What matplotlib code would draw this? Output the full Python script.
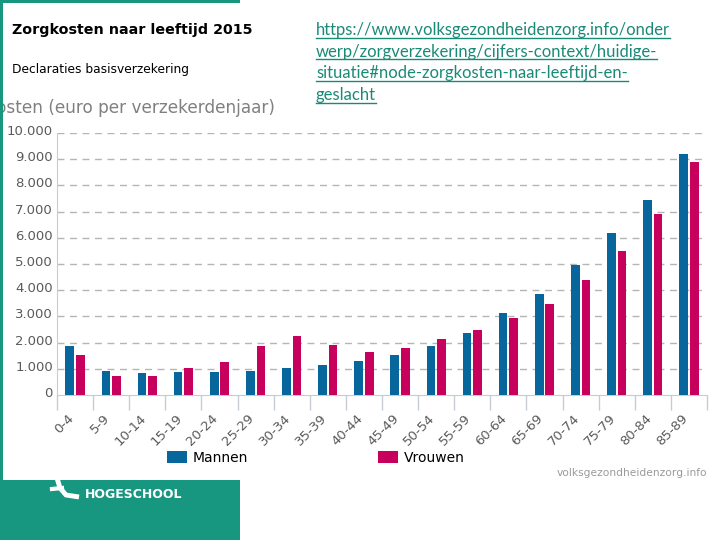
import numpy as np
import matplotlib
matplotlib.use("Agg")
import matplotlib.pyplot as plt
from matplotlib.patches import Rectangle
from matplotlib.transforms import ScaledTranslation

# data
age_groups = ["0-4", "5-9", "10-14", "15-19", "20-24", "25-29", "30-34", "35-39", "40-44",
              "45-49", "50-54", "55-59", "60-64", "65-69", "70-74", "75-79", "80-84", "85-89"]
mannen = [1870, 930, 840, 880, 880, 930, 1030, 1150, 1300,
          1530, 1870, 2370, 3130, 3860, 4970, 6190, 7450, 9180]
vrouwen = [1530, 730, 730, 1030, 1260, 1870, 2255, 1910, 1640,
           1800, 2140, 2480, 2940, 3480, 4390, 5500, 6920, 8900]
y_ticks = [0, 1000, 2000, 3000, 4000, 5000, 6000, 7000, 8000, 9000, 10000]
y_tick_labels = ["0", "1.000", "2.000", "3.000", "4.000", "5.000", "6.000",
                 "7.000", "8.000", "9.000", "10.000"]
url_lines = ["https://www.volksgezondheidenzorg.info/onder",
             "werp/zorgverzekering/cijfers-context/huidige-",
             "situatie#node-zorgkosten-naar-leeftijd-en-",
             "geslacht"]

BLUE = "#07669c"
MAGENTA = "#c7005e"
TEAL = "#17977f"
W, H = 720, 540


def fx(x):
    return x / W


def fy(y):
    return 1 - y / H


fig = plt.figure(figsize=(7.2, 5.4), dpi=100)
fig.patch.set_facecolor("white")

# slide frame
fig.patches.append(Rectangle((0, 0), fx(240), fy(480), transform=fig.transFigure,
                             facecolor=TEAL, edgecolor="none", zorder=0))
fig.patches.append(Rectangle((0, fy(3)), fx(240), fy(0) - fy(3), transform=fig.transFigure,
                             facecolor=TEAL, edgecolor="none", zorder=5))
fig.patches.append(Rectangle((0, fy(480)), fx(3), fy(0) - fy(480), transform=fig.transFigure,
                             facecolor=TEAL, edgecolor="none", zorder=5))

# chart
ax = fig.add_axes([fx(57), fy(395), fx(707) - fx(57), fy(133) - fy(395)])
x = np.arange(len(age_groups))
bar_m = ax.bar(x - 0.145, mannen, width=0.24, color=BLUE, zorder=3, label="Mannen")
bar_v = ax.bar(x + 0.145, vrouwen, width=0.24, color=MAGENTA, zorder=3, label="Vrouwen")

ax.set_xlim(-0.5, len(age_groups) - 0.5)
ax.set_ylim(0, 10000)
ax.set_yticks(y_ticks)
ax.set_yticklabels(y_tick_labels, fontsize=9.5, color="#5a5a5a")
ax.tick_params(axis="y", length=0, pad=3)
for lbl in ax.get_yticklabels():
    lbl.set_transform(lbl.get_transform() + ScaledTranslation(0, 3 / 100, fig.dpi_scale_trans))

ax.set_xticks(x)
ax.set_xticklabels(age_groups, rotation=45, ha="right", va="top", rotation_mode="anchor",
                   fontsize=9.5, color="#5a5a5a")
ax.tick_params(axis="x", which="major", length=0, pad=12)
for lbl in ax.get_xticklabels():
    lbl.set_transform(lbl.get_transform() + ScaledTranslation(-8 / 100, 0, fig.dpi_scale_trans))
ax.set_xticks(np.arange(-0.5, len(age_groups), 1), minor=True)
ax.tick_params(axis="x", which="minor", length=11, color="#c5ccd3", width=1)

for yv in y_ticks[1:]:
    ax.axhline(yv, color="#b5b5b5", lw=1, ls=(0, (5, 4)), zorder=1)

for side in ["top", "right"]:
    ax.spines[side].set_visible(False)
ax.spines["left"].set_color("#c5ccd3")
ax.spines["bottom"].set_color("#c5ccd3")

# texts
fig.text(fx(12), fy(30), "Zorgkosten naar leeftijd 2015", fontsize=10.3, fontweight="bold",
         color="black", va="center", ha="left")
fig.text(fx(12), fy(70), "Declaraties basisverzekering", fontsize=8.8, color="black",
         va="center", ha="left")
# y-axis title, cut off by the left edge as in the source screenshot
fig.text(fx(275), fy(108), "Kosten (euro per verzekerdenjaar)", fontsize=12.2, color="#808080",
         va="center", ha="right")
fig.text(fx(707), fy(473), "volksgezondheidenzorg.info", fontsize=7.7, color="#9a9a9a",
         va="center", ha="right")

fig.legend(handles=[bar_m, bar_v], loc="center left", bbox_to_anchor=(fx(167), fy(458)),
           ncol=2, frameon=False, fontsize=10, handlelength=1.44, handleheight=1.0,
           handletextpad=0.43, columnspacing=9.3, borderpad=0, borderaxespad=0)

# url (underlined)
renderer = fig.canvas.get_renderer()
for i, line in enumerate(url_lines):
    t = fig.text(fx(316), fy(30 + i * 21.7), line, fontsize=12, family="Lato", color="#1a8a78",
                 va="center", ha="left")
    bb = t.get_window_extent(renderer)
    uy = bb.y0 / (H)
    fig.lines.append(plt.Line2D([bb.x0 / W, bb.x1 / W], [uy + 0.5 / H, uy + 0.5 / H],
                                transform=fig.transFigure, color="#1a8a78", lw=1))

# logo
fig.lines.append(plt.Line2D([fx(57), fx(60), fx(66), fx(79)], [fy(478), fy(488), fy(495), fy(497)],
                            transform=fig.transFigure, color="white", lw=3.5, solid_capstyle="butt"))
fig.lines.append(plt.Line2D([fx(52), fx(62)], [fy(489), fy(488)],
                            transform=fig.transFigure, color="white", lw=3))
fig.text(fx(85), fy(494), "HOGESCHOOL", fontsize=9, fontweight="bold", family="Liberation Sans Narrow",
         color="white", va="center", ha="left")

fig.savefig("out.png", dpi=100)
